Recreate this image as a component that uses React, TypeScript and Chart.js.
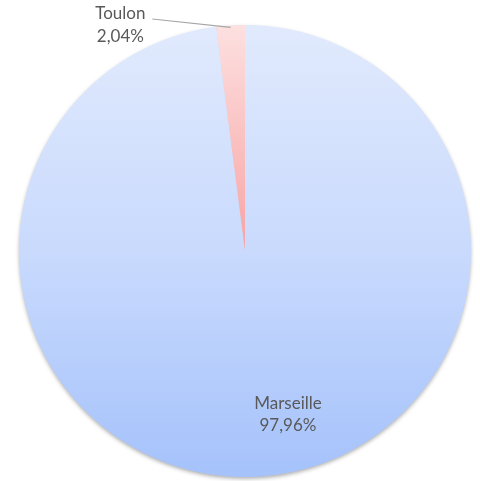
import React, { useEffect, useRef } from "react";
import { Chart, registerables } from "chart.js";

Chart.register(...registerables);

const categories = ["Marseille", "Toulon"];
const values = [97.96, 2.04];
const valueLabels = ["97,96%", "2,04%"];

const FONT = "17px Lato, 'Open Sans', sans-serif";
const TEXT = "#595959";

const labelPlugin = {
  id: "customLabels",
  beforeDatasetsDraw(chart: any) {
    const meta = chart.getDatasetMeta(0);
    const arc = meta.data[0];
    if (!arc) return;
    const { x, y, outerRadius } = arc.getProps(["x", "y", "outerRadius"], true);
    const ctx = chart.ctx;
    ctx.save();
    ctx.shadowColor = "rgba(0,0,0,0.35)";
    ctx.shadowBlur = 4;
    ctx.shadowOffsetY = 2;
    ctx.shadowOffsetX = 0;
    ctx.fillStyle = "#c9d9fb";
    ctx.beginPath();
    ctx.arc(x, y, outerRadius - 0.5, 0, Math.PI * 2);
    ctx.fill();
    ctx.restore();
  },
  afterDatasetsDraw(chart: any) {
    const ctx = chart.ctx;
    const meta = chart.getDatasetMeta(0);
    const a0 = meta.data[0];
    const a1 = meta.data[1];
    if (!a0 || !a1) return;
    const p0 = a0.getProps(["x", "y", "outerRadius", "startAngle", "endAngle"], true);
    const p1 = a1.getProps(["x", "y", "outerRadius", "startAngle", "endAngle"], true);
    ctx.save();
    ctx.font = FONT;
    ctx.fillStyle = TEXT;
    ctx.textAlign = "center";
    ctx.textBaseline = "alphabetic";
    // Marseille label inside slice
    const mx = p0.x + p0.outerRadius * 0.19;
    const my = p0.y + p0.outerRadius * 0.7;
    ctx.fillText(categories[0], mx, my);
    ctx.fillText(valueLabels[0], mx, my + 22);
    // Toulon label outside with leader line
    const mid = (p1.startAngle + p1.endAngle) / 2;
    const ex = p1.x + Math.cos(mid) * (p1.outerRadius - 2);
    const ey = p1.y + Math.sin(mid) * (p1.outerRadius - 2);
    const lx = p1.x - p1.outerRadius * 0.41;
    const ly = p1.y - p1.outerRadius - 6;
    ctx.strokeStyle = "#a6a6a6";
    ctx.lineWidth = 1.2;
    ctx.beginPath();
    ctx.moveTo(lx, ly);
    ctx.lineTo(ex, ey);
    ctx.stroke();
    ctx.fillText(categories[1], lx - 32, ly);
    ctx.fillText(valueLabels[1], lx - 32, ly + 23);
    ctx.restore();
  },
};

export default function App() {
  const ref = useRef<HTMLCanvasElement>(null);
  useEffect(() => {
    document.body.style.margin = "0";
    const canvas = ref.current!;
    const chart = new Chart(canvas, {
      type: "pie",
      data: {
        labels: categories,
        datasets: [
          {
            data: values,
            borderWidth: 0,
            backgroundColor: (c: any) => {
              const ch = c.chart;
              const area = ch.chartArea;
              if (!area) return c.dataIndex === 0 ? "#c9d9fb" : "#fbbcbc";
              const g = ch.ctx.createLinearGradient(0, area.top, 0, area.bottom);
              if (c.dataIndex === 0) {
                g.addColorStop(0, "#e1eafd");
                g.addColorStop(0.5, "#c9dafd");
                g.addColorStop(1, "#a5c2fb");
              } else {
                const cy = (area.top + area.bottom) / 2;
                const g2 = ch.ctx.createLinearGradient(0, area.top, 0, cy);
                g2.addColorStop(0, "#fde0e0");
                g2.addColorStop(1, "#f8a3a3");
                return g2;
              }
              return g;
            },
          },
        ],
      },
      options: {
        animation: false,
        responsive: false,
        maintainAspectRatio: false,
        layout: { padding: { left: 19, right: 9, top: 25, bottom: 4 } },
        plugins: {
          legend: { display: false },
          tooltip: { enabled: false },
          title: { display: false },
        },
      },
      plugins: [labelPlugin],
    });
    return () => chart.destroy();
  }, []);
  return (
    <div style={{ position: "absolute", left: 0, top: 0, width: 480, height: 481 }}>
      <canvas ref={ref} width={480} height={481} style={{ width: 480, height: 481 }} />
    </div>
  );
}
